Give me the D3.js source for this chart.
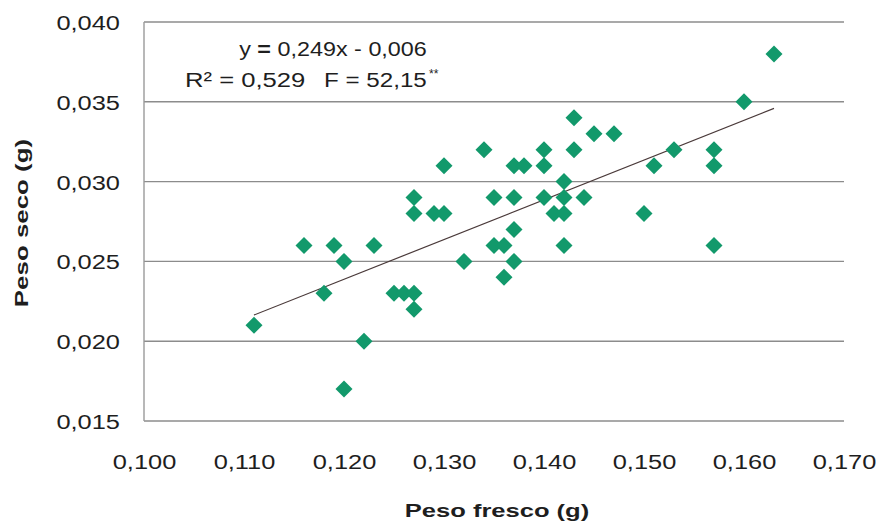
<!DOCTYPE html>
<html>
<head>
<meta charset="utf-8">
<script src="https://cdn.jsdelivr.net/npm/d3@7"></script>
<style>
  html, body { margin: 0; padding: 0; background: #ffffff; }
  svg { display: block; }
  text { font-family: "Liberation Sans", Arial, sans-serif; fill: #1e1e1e; }
</style>
</head>
<body>
<svg id="chart" width="878" height="524"></svg>
<script>
// Fresh weight (x) vs dry weight (y), in grams
const pesoFresco = [
  0.111, 0.116, 0.118, 0.119, 0.120, 0.120, 0.122, 0.123,
  0.125, 0.126, 0.127, 0.127, 0.127, 0.127, 0.129, 0.130,
  0.130, 0.132, 0.134, 0.135, 0.135, 0.136, 0.136, 0.137,
  0.137, 0.138, 0.137, 0.137, 0.140, 0.140, 0.140, 0.141,
  0.142, 0.142, 0.142, 0.142, 0.143, 0.143, 0.144, 0.145,
  0.147, 0.150, 0.151, 0.153, 0.157, 0.157, 0.157, 0.160,
  0.163
];
const pesoSeco = [
  0.021, 0.026, 0.023, 0.026, 0.025, 0.017, 0.020, 0.026,
  0.023, 0.023, 0.023, 0.022, 0.029, 0.028, 0.028, 0.028,
  0.031, 0.025, 0.032, 0.029, 0.026, 0.026, 0.024, 0.029,
  0.031, 0.031, 0.027, 0.025, 0.032, 0.031, 0.029, 0.028,
  0.028, 0.029, 0.030, 0.026, 0.034, 0.032, 0.029, 0.033,
  0.033, 0.028, 0.031, 0.032, 0.032, 0.031, 0.026, 0.035,
  0.038
];

// Axis ticks
const xTicks = [0.100, 0.110, 0.120, 0.130, 0.140, 0.150, 0.160, 0.170];
const yTicks = [0.015, 0.020, 0.025, 0.030, 0.035, 0.040];

// Linear regression fitted to the data
const slope = 0.249;
const intercept = -0.006;
const equationText = ["y ", "=", " 0,249x - 0,006"];
const r2Text = "R² = 0,529";
const fText = "F = 52,15";
const fSignif = "**";

const xTitle = "Peso fresco (g)";
const yTitle = "Peso seco (g)";

const points = pesoFresco.map((v, i) => ({ x: v, y: pesoSeco[i] }));

const svg = d3.select("#chart");
const plotLeft = 144, plotRight = 844, plotTop = 22, plotBottom = 421;
const x = d3.scaleLinear().domain([0.100, 0.170]).range([plotLeft, plotRight]);
const y = d3.scaleLinear().domain([0.015, 0.040]).range([plotBottom, plotTop]);
const fmt = v => d3.format(".3f")(v).replace(".", ",");
const stretch = 1.24;

// Horizontal gridlines
svg.append("g")
  .selectAll("line")
  .data(yTicks)
  .join("line")
  .attr("x1", plotLeft).attr("x2", plotRight)
  .attr("y1", d => y(d)).attr("y2", d => y(d))
  .attr("stroke", "#8c8c8c")
  .attr("stroke-width", 1.4);

// Left axis line
svg.append("line")
  .attr("x1", plotLeft).attr("x2", plotLeft)
  .attr("y1", y(0.040)).attr("y2", y(0.015))
  .attr("stroke", "#9a9a9a")
  .attr("stroke-width", 1.4);

// X axis tick labels
const gx = svg.append("g")
  .attr("transform", `translate(0,${plotBottom})`)
  .call(d3.axisBottom(x).tickValues(xTicks).tickFormat(fmt).tickSize(0));
gx.select(".domain").remove();
gx.selectAll("text")
  .attr("y", 0).attr("dy", 0)
  .attr("transform", `translate(0,47.5) scale(${stretch},1)`)
  .style("font-size", "20.5px")
  .style("font-family", "'Liberation Sans', Arial, sans-serif")
  .attr("fill", "#1a1a1a");

// Y axis tick labels
const gy = svg.append("g")
  .attr("transform", `translate(${plotLeft},0)`)
  .call(d3.axisLeft(y).tickValues(yTicks).tickFormat(fmt).tickSize(0));
gy.select(".domain").remove();
gy.selectAll("text")
  .attr("x", 0).attr("dy", 0)
  .attr("transform", `translate(-24,7.5) scale(${stretch},1)`)
  .style("font-size", "20.5px")
  .style("font-family", "'Liberation Sans', Arial, sans-serif")
  .attr("fill", "#1a1a1a");

// Trend line over the observed x range
const xr = d3.extent(pesoFresco);
svg.append("line")
  .attr("x1", x(xr[0])).attr("y1", y(slope * xr[0] + intercept))
  .attr("x2", x(xr[1])).attr("y2", y(slope * xr[1] + intercept))
  .attr("stroke", "#4a3a3a")
  .attr("stroke-width", 1.2);

// Diamond markers
svg.append("g")
  .selectAll("path")
  .data(points)
  .join("path")
  .attr("d", d3.symbol(d3.symbolSquare, 145))
  .attr("transform", d => `translate(${x(d.x)},${y(d.y)}) rotate(45)`)
  .attr("fill", "#12996b");

// Regression annotation
const eq1 = svg.append("g").attr("transform", "translate(333,56) scale(1.14,1)")
  .append("text")
  .attr("text-anchor", "middle")
  .style("font-size", "20.5px");
eq1.selectAll("tspan")
  .data(equationText)
  .join("tspan")
  .style("font-weight", (d, i) => i === 1 ? "bold" : "normal")
  .text(d => d);

const eq2 = svg.append("g").attr("transform", "translate(185,87) scale(1.25,1)");
eq2.append("text").style("font-size", "20.5px").text(r2Text);
const eq3 = svg.append("g").attr("transform", "translate(324,87) scale(1.18,1)");
eq3.append("text").style("font-size", "20.5px").text(fText);
svg.append("text")
  .attr("x", 429).attr("y", 78)
  .style("font-size", "12px")
  .text(fSignif);

// Axis titles
svg.append("g")
  .attr("transform", "translate(497,517) scale(1.38,1)")
  .append("text")
  .attr("text-anchor", "middle")
  .style("font-size", "18.5px")
  .style("font-weight", "bold")
  .text(xTitle);

svg.append("g")
  .attr("transform", "translate(28,223) rotate(-90) scale(1.4,1)")
  .append("text")
  .attr("text-anchor", "middle")
  .style("font-size", "18.5px")
  .style("font-weight", "bold")
  .text(yTitle);
</script>
</body>
</html>
